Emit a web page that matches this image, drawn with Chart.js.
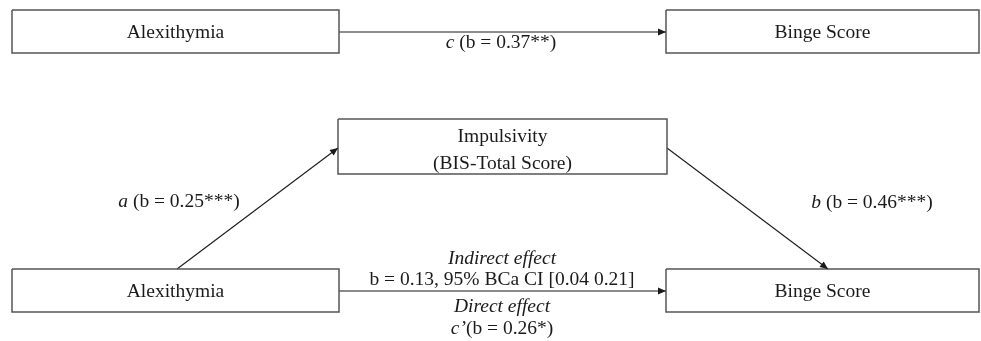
<!DOCTYPE html>
<html>
<head>
<meta charset="utf-8">
<script src="https://cdn.jsdelivr.net/npm/chart.js@4"></script>
<style>
html,body{margin:0;padding:0;background:#fff;}
#wrap{width:981px;height:341px;}
</style>
</head>
<body>
<div id="wrap"><canvas id="c" width="981" height="341"></canvas></div>
<script>
// ---- Diagram content ----
const nodeNames = ["Alexithymia", "Binge Score", "Impulsivity\n(BIS-Total Score)", "Alexithymia", "Binge Score"];
// node extents in diagram units [x1, y1, x2, y2]
const nodeX1 = [12, 666, 338, 12, 666];
const nodeY1 = [10, 10, 119, 269, 269];
const nodeX2 = [339, 979, 667, 339, 979];
const nodeY2 = [53, 53, 174, 312, 312];

// paths: [fromX, fromY, toX, toY]
const pathNames = ["c", "a", "b", "c'"];
const pathFromX = [339, 177, 667, 339];
const pathFromY = [32, 269, 148, 291];
const pathToX = [666, 338, 828, 666];
const pathToY = [32, 148, 269, 291];

// coefficients
const coefC = 0.37, starsC = "**";
const coefA = 0.25, starsA = "***";
const coefB = 0.46, starsB = "***";
const indirectB = 0.13, ciLow = 0.04, ciHigh = 0.21;
const coefCprime = 0.26, starsCprime = "*";

// label anchors [x, y]
const labelX = [501, 179, 872, 502, 502, 502, 502];
const labelY = [43, 202, 203, 259, 280, 307, 329];

const FONT = "'Liberation Serif','Times New Roman',serif";
const FS = 19.5;

function f2(v){ return v.toFixed(2); }

// label runs: [text, italic]
const labels = [
  [["c", true], [" (b = " + f2(coefC) + starsC + ")", false]],
  [["a", true], [" (b = " + f2(coefA) + starsA + ")", false]],
  [["b", true], [" (b = " + f2(coefB) + starsB + ")", false]],
  [["Indirect effect", true]],
  [["b = " + f2(indirectB) + ", 95% BCa CI [" + f2(ciLow) + " " + f2(ciHigh) + "]", false]],
  [["Direct effect", true]],
  [["c\u2019", true], ["(b = " + f2(coefCprime) + starsCprime + ")", false]]
];

// ---- datasets ----
const datasets = [];
for (let i = 0; i < nodeNames.length; i++) {
  datasets.push({
    label: "node " + i,
    data: [
      {x: nodeX1[i], y: nodeY1[i]}, {x: nodeX2[i], y: nodeY1[i]},
      {x: nodeX2[i], y: nodeY2[i]}, {x: nodeX1[i], y: nodeY2[i]},
      {x: nodeX1[i], y: nodeY1[i]}
    ],
    showLine: true, borderColor: "#555555", borderWidth: 1.5,
    pointRadius: 0, fill: false, tension: 0, kind: "node", idx: i
  });
}
for (let i = 0; i < pathNames.length; i++) {
  datasets.push({
    label: "path " + pathNames[i],
    data: [{x: pathFromX[i], y: pathFromY[i]}, {x: pathToX[i], y: pathToY[i]}],
    showLine: true, borderColor: "#1a1a1a", borderWidth: 1.1,
    pointRadius: 0, fill: false, kind: "path", idx: i
  });
}

const diagramPlugin = {
  id: "diagram",
  afterDatasetsDraw(chart) {
    const ctx = chart.ctx;
    const xs = chart.scales.x, ys = chart.scales.y;
    ctx.save();
    // arrowheads
    chart.data.datasets.forEach((ds) => {
      if (ds.kind !== "path") return;
      const p0 = ds.data[0], p1 = ds.data[1];
      const x0 = xs.getPixelForValue(p0.x), y0 = ys.getPixelForValue(p0.y);
      const x1 = xs.getPixelForValue(p1.x), y1 = ys.getPixelForValue(p1.y);
      const ang = Math.atan2(y1 - y0, x1 - x0);
      const L = 8, W = 3.5;
      ctx.beginPath();
      ctx.moveTo(x1, y1);
      ctx.lineTo(x1 - L*Math.cos(ang) + W*Math.sin(ang), y1 - L*Math.sin(ang) - W*Math.cos(ang));
      ctx.lineTo(x1 - L*Math.cos(ang) - W*Math.sin(ang), y1 - L*Math.sin(ang) + W*Math.cos(ang));
      ctx.closePath();
      ctx.fillStyle = "#1a1a1a";
      ctx.fill();
    });
    // node texts
    ctx.fillStyle = "#1a1a1a";
    ctx.textBaseline = "middle";
    ctx.textAlign = "center";
    ctx.font = FS + "px " + FONT;
    for (let i = 0; i < nodeNames.length; i++) {
      const lines = nodeNames[i].split("\n");
      const cx = xs.getPixelForValue((nodeX1[i] + nodeX2[i]) / 2);
      const cy = ys.getPixelForValue((nodeY1[i] + nodeY2[i]) / 2);
      const lh = 27;
      const off = lines.length > 1 ? 4 : 1;
      lines.forEach((ln, k) => {
        ctx.fillText(ln, cx, cy + (k - (lines.length - 1) / 2) * lh + off);
      });
    }
    // path labels
    ctx.textAlign = "left";
    labels.forEach((runs, i) => {
      let total = 0;
      const widths = runs.map(r => {
        ctx.font = (r[1] ? "italic " : "") + FS + "px " + FONT;
        const w = ctx.measureText(r[0]).width; total += w; return w;
      });
      let x = xs.getPixelForValue(labelX[i]) - total / 2;
      const y = ys.getPixelForValue(labelY[i]);
      runs.forEach((r, k) => {
        ctx.font = (r[1] ? "italic " : "") + FS + "px " + FONT;
        ctx.fillText(r[0], x, y);
        x += widths[k];
      });
    });
    ctx.restore();
  }
};

new Chart(document.getElementById("c"), {
  type: "scatter",
  data: { datasets },
  options: {
    responsive: false,
    animation: false,
    devicePixelRatio: 1,
    layout: { padding: 0 },
    plugins: { legend: { display: false }, tooltip: { enabled: false } },
    scales: {
      x: { type: "linear", min: 0, max: 981, display: false },
      y: { type: "linear", min: 0, max: 341, reverse: true, display: false }
    },
    elements: { line: { borderCapStyle: "butt" } }
  },
  plugins: [diagramPlugin]
});
</script>
</body>
</html>
